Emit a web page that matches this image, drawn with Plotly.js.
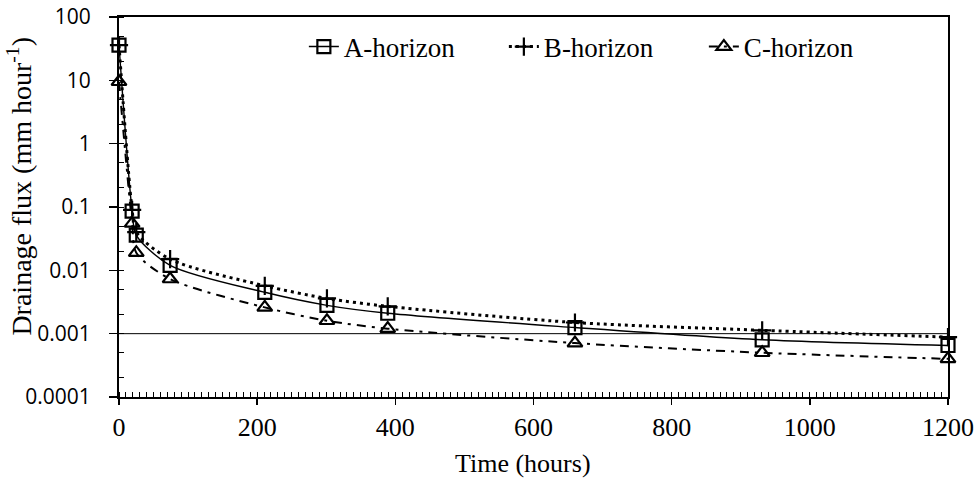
<!DOCTYPE html>
<html>
<head>
<meta charset="utf-8">
<script src="https://cdn.plot.ly/plotly-3.0.1.min.js"></script>
<style>html,body{margin:0;padding:0;background:#fff;}#chart{width:978px;height:486px;}</style>
</head>
<body>
<div id="chart"></div>
<script>
// Data
const timeHours = [0, 19, 25, 74, 211, 301, 389, 660, 931, 1200];
const aHorizon = [36, 0.086, 0.036, 0.012, 0.0045, 0.0028, 0.0021, 0.00125, 0.0008, 0.00065];
const bHorizon = [36, 0.09, 0.04, 0.015, 0.0057, 0.0036, 0.0027, 0.0015, 0.00113, 0.00088];
const cHorizon = [9.5, 0.055, 0.019, 0.0073, 0.0026, 0.0016, 0.0012, 0.00071, 0.0005, 0.0004];
const seriesNames = ["A-horizon", "B-horizon", "C-horizon"];
const yTickVals = [100, 10, 1, 0.1, 0.01, 0.001, 0.0001];
const yTickText = ["100", "10", "1", "0.1", "0.01", "0.001", "0.0001"];
const xTickVals = [0, 200, 400, 600, 800, 1000, 1200];
const referenceLine = 0.001;

const serif = "Liberation Serif, Times New Roman, serif";
const sans = "Open Sans, DejaVu Sans, sans-serif";

const traces = [
  {
    x: timeHours, y: aHorizon, name: seriesNames[0], type: "scatter", mode: "lines+markers",
    cliponaxis: false,
    line: {color: "#000", width: 1.4, shape: "spline", smoothing: 0.8},
    marker: {symbol: "square-open", size: 13, color: "#000", line: {width: 2.2, color: "#000"}}
  },
  {
    x: timeHours, y: bHorizon, name: seriesNames[1], type: "scatter", mode: "lines+markers",
    cliponaxis: false,
    line: {color: "#000", width: 3, dash: "3px,4px", shape: "spline", smoothing: 0.8},
    marker: {symbol: "cross-thin-open", size: 13, color: "#000", line: {width: 2.2, color: "#000"}}
  },
  {
    x: timeHours, y: cHorizon, name: seriesNames[2], type: "scatter", mode: "lines+markers",
    cliponaxis: false,
    line: {color: "#000", width: 2, dash: "9px,6px,3px,6px", shape: "spline", smoothing: 0.8},
    marker: {symbol: "triangle-up-open", size: 13, color: "#000", line: {width: 2.2, color: "#000"}}
  }
];

const layout = {
  width: 978, height: 486,
  margin: {l: 119, r: 30, t: 17, b: 89},
  paper_bgcolor: "#fff", plot_bgcolor: "#fff",
  showlegend: true,
  legend: {
    orientation: "h", x: 0.223, xanchor: "left", y: 0.921, yanchor: "middle",
    font: {family: serif, size: 27, color: "#000"},
    bgcolor: "rgba(0,0,0,0)", traceorder: "normal",
    entrywidth: 155, entrywidthmode: "pixels"
  },
  xaxis: {
    range: [0, 1200], tickvals: xTickVals, ticktext: xTickVals.map(String),
    showgrid: false, zeroline: false,
    showline: true, linecolor: "#000", linewidth: 2, mirror: true,
    ticks: "outside", ticklen: 6, tickwidth: 1.5, tickcolor: "#000",
    ticklabelstandoff: 0,
    minor: {dtick: 10, ticks: "inside", ticklen: 5, tickwidth: 1, tickcolor: "#000", showgrid: false},
    tickfont: {family: serif, size: 26, color: "#000"}
  },
  yaxis: {
    type: "log", range: [-4, 2], tickvals: yTickVals, ticktext: yTickText,
    showgrid: false, zeroline: false,
    showline: true, linecolor: "#000", linewidth: 2, mirror: true,
    ticks: "outside", ticklen: 8, tickwidth: 1.5, tickcolor: "#000",
    ticklabelstandoff: 14,
    minor: {ticks: "inside", ticklen: 5, tickwidth: 1, tickcolor: "#000", showgrid: false},
    tickfont: {family: sans, size: 21, color: "#000"}
  },
  shapes: [
    {type: "line", xref: "paper", x0: 0, x1: 1, yref: "y", y0: referenceLine, y1: referenceLine,
     line: {color: "#000", width: 1}, layer: "below"}
  ],
  annotations: [
    {text: "Time (hours)", xref: "paper", yref: "paper", x: 0.487, y: -0.174,
     xanchor: "center", yanchor: "middle", showarrow: false,
     font: {family: serif, size: 26, color: "#000"}},
    {text: "Drainage flux (mm hour<sup>-1</sup>)", xref: "paper", yref: "paper", x: -0.12, y: 0.555,
     xanchor: "center", yanchor: "middle", textangle: -90, showarrow: false,
     font: {family: serif, size: 28, color: "#000"}}
  ]
};

Plotly.newPlot("chart", traces, layout, {displayModeBar: false, staticPlot: true});
</script>
</body>
</html>
